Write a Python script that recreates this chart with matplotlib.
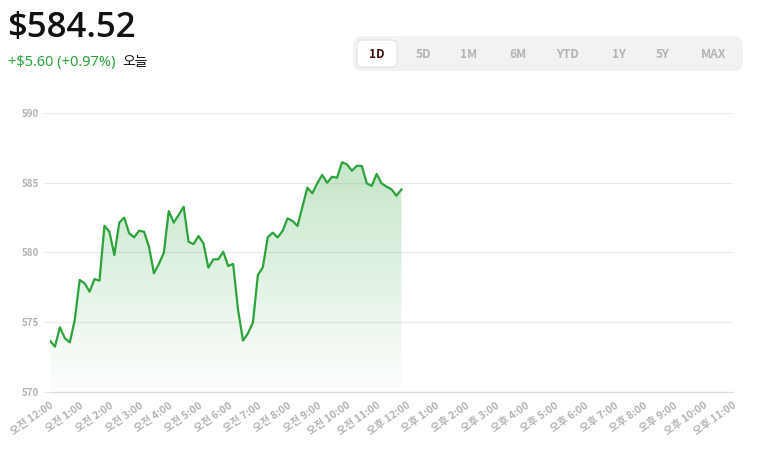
import numpy as np
import matplotlib.pyplot as plt
from matplotlib.patches import FancyBboxPatch

plt.rcParams['font.family'] = ['Noto Sans CJK KR', 'DejaVu Sans']

# 10분 간격 시세 (오전 12:00 ~ 오전 11:50)
prices = [573.68, 573.25, 574.64, 573.85, 573.56, 575.16, 578.03, 577.79, 577.19, 578.10,
          577.98, 581.92, 581.49, 579.82, 582.14, 582.50, 581.37, 581.09, 581.56, 581.49,
          580.42, 578.51, 579.18, 579.98, 582.97, 582.14, 582.69, 583.28, 580.77, 580.60,
          581.18, 580.66, 578.91, 579.51, 579.51, 580.06, 579.03, 579.18, 575.88, 573.68,
          574.21, 574.97, 578.39, 578.94, 581.10, 581.42, 581.08, 581.55, 582.45, 582.26,
          581.90, 583.28, 584.65, 584.24, 584.96, 585.56, 585.00, 585.43, 585.36, 586.47,
          586.32, 585.86, 586.22, 586.20, 584.96, 584.77, 585.63, 584.96, 584.72, 584.53,
          584.07, 584.52]
minutes = np.arange(len(prices)) * 10

hour_labels = ['오전 12:00', '오전 1:00', '오전 2:00', '오전 3:00', '오전 4:00', '오전 5:00',
               '오전 6:00', '오전 7:00', '오전 8:00', '오전 9:00', '오전 10:00', '오전 11:00',
               '오후 12:00', '오후 1:00', '오후 2:00', '오후 3:00', '오후 4:00', '오후 5:00',
               '오후 6:00', '오후 7:00', '오후 8:00', '오후 9:00', '오후 10:00', '오후 11:00']
y_ticks = [570, 575, 580, 585, 590]
ranges = ['1D', '5D', '1M', '6M', 'YTD', '1Y', '5Y', 'MAX']

last_price = '$584.52'
change = '+$5.60 (+0.97%)'

green = '#2ba33a'
W, H = 757, 454

fig = plt.figure(figsize=(W / 100, H / 100), dpi=100)
ax = fig.add_axes([50 / W, 1 - 392 / H, 683 / W, 279 / H])

t = minutes / 60
ax.plot(t, prices, color=green, lw=1.6, zorder=3, solid_joinstyle='round')

# 그라데이션 채우기
poly = ax.fill_between(t, prices, 570, facecolor='none', edgecolor='none')
grad = np.zeros((256, 1, 4))
grad[..., :3] = plt.matplotlib.colors.to_rgb(green)
grad[:, 0, 3] = np.linspace(0.01, 0.33, 256)
im = ax.imshow(grad, extent=[0, 23, 570, 590], origin='lower', aspect='auto', zorder=2)
im.set_clip_path(poly.get_paths()[0], transform=ax.transData)

ax.set_xlim(0, 23)
ax.set_ylim(570, 590)
ax.set_yticks(y_ticks)
ax.set_xticks(range(len(hour_labels)))
ax.set_xticklabels(hour_labels, rotation=35, ha='right', rotation_mode='anchor')
ax.grid(axis='y', color='#ebebeb', lw=0.8, zorder=0)
ax.tick_params(axis='y', length=5, color='#ebebeb', width=0.8, pad=3,
               labelsize=7, labelcolor='#b3b3b3')
ax.tick_params(axis='x', length=0, pad=6, labelsize=7.5, labelcolor='#b3b3b3')
for lab in ax.get_xticklabels() + ax.get_yticklabels():
    lab.set_fontweight('bold')
for s in ['top', 'right', 'left']:
    ax.spines[s].set_visible(False)
ax.spines['bottom'].set_color('#dcdcdc')
ax.spines['bottom'].set_linewidth(0.9)

# 상단 헤더 및 기간 버튼 (픽셀 좌표)
ov = fig.add_axes([0, 0, 1, 1])
ov.set_xlim(0, W)
ov.set_ylim(H, 0)
ov.axis('off')
ov.patch.set_visible(False)

ov.text(7, 37, last_price, fontsize=25, fontweight='semibold', color='#111111',
        family=['Open Sans', 'DejaVu Sans'], va='baseline')
ov.text(8, 66, change, fontsize=10.5, color=green, va='baseline',
        family=['Noto Sans', 'DejaVu Sans'])
ov.text(122, 66, '오늘', fontsize=10, color='#111111', va='baseline')

ov.add_patch(FancyBboxPatch((353, 36), 390, 35, boxstyle='round,pad=0,rounding_size=9',
                            facecolor='#f2f2f2', edgecolor='none'))
ov.add_patch(FancyBboxPatch((357, 40), 40, 27, boxstyle='round,pad=0,rounding_size=5',
                            facecolor='white', edgecolor='#e2e2e2', lw=0.8))
centers = [377, 423, 469, 518, 568, 619, 663, 714]
for lab, cx in zip(ranges, centers):
    ov.text(cx, 54, lab, fontsize=8.5, fontweight='bold', ha='center', va='center',
            color='#3a0a0a' if lab == '1D' else '#b3b3b3')

fig.savefig('out.png', dpi=100)
